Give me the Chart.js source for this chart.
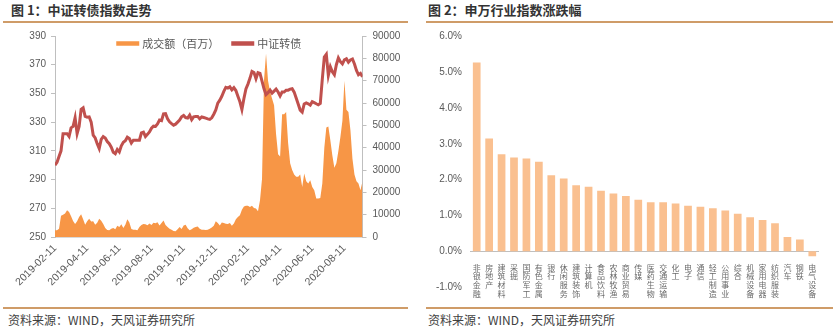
<!DOCTYPE html>
<html lang="zh-CN">
<head>
<meta charset="UTF-8">
<title>中证转债指数走势 / 申万行业指数涨跌幅</title>
<script src="https://cdn.jsdelivr.net/npm/chart.js"></script>
<style>
  body { margin: 0; background: #fff; width: 836px; height: 332px; position: relative; overflow: hidden;
         font-family: "Noto Sans CJK SC", sans-serif; }
  .title { position: absolute; top: 2px; font-size: 13px; line-height: 16px; font-weight: bold; color: #333; }
  .rule { position: absolute; height: 0; border-top: 2px solid #cf9c68; }
  .source { position: absolute; top: 313px; font-size: 12px; line-height: 14px; color: #404040; }
  canvas { position: absolute; top: 22px; }
</style>
</head>
<body>

<div class="title" style="left:11px">图 1：中证转债指数走势</div>
<div class="rule" style="left:3px;width:405px;top:21px"></div>
<canvas id="bondChart" width="410" height="285" style="left:0"></canvas>
<div class="rule" style="left:3px;width:405px;top:307px"></div>
<div class="source" style="left:8px">资料来源：WIND，天风证券研究所</div>

<div class="title" style="left:428px">图 2：申万行业指数涨跌幅</div>
<div class="rule" style="left:426px;width:407px;top:21px"></div>
<canvas id="industryChart" width="416" height="285" style="left:420px"></canvas>
<div class="rule" style="left:426px;width:407px;top:307px"></div>
<div class="source" style="left:428px">资料来源：WIND，天风证券研究所</div>

<script>
// ---- 图1 data: sampled roughly every 2.5 trading days, 2019-02-11 onward ----
const tickLabels = ['2019-02-11', '2019-04-11', '2019-06-11', '2019-08-11', '2019-10-11',
                    '2019-12-11', '2020-02-11', '2020-04-11', '2020-06-11', '2020-08-11'];
const tickEvery = 16; // samples between two date labels

const bondIndex = [
  300, 302, 306, 310, 322, 322, 322, 320, 326, 327,
  333, 322, 327, 339, 340, 334, 333.5, 333.7, 330, 321,
  319, 315, 311.6, 318, 320, 319, 316.5, 315, 312.5, 309,
  308, 311, 309.3, 313.5, 316, 317, 319.5, 318.6, 315.5, 317.4,
  317.4, 317.4, 317.4, 322.5, 323, 320, 321.5, 323.2, 325.8, 327.2,
  327, 328.7, 331.4, 331, 335.8, 336, 332.4, 330.2, 329, 327.9,
  328.6, 330, 331.4, 333.7, 334.6, 333.2, 332.8, 334.9, 331.7, 333.7,
  334, 334, 332.3, 333.6, 333.2, 332.8, 332.3, 331.9, 333, 335.5,
  338.5, 343.3, 345.3, 348, 351.4, 354.2, 353.7, 354.6, 352.5, 354,
  352, 348, 344.2, 338.8, 346.5, 353.2, 356.5, 360.5, 365.3, 364.5,
  360.3, 364.5, 364, 358.5, 353.2, 349.2, 350.5, 352.3, 350.2, 351.6,
  353, 351, 348.3, 351, 351, 352.3, 352.3, 353, 353.3, 350.9,
  346.8, 342.6, 338.4, 337, 342.7, 343.4, 342.8, 341.9, 344.2, 343.6,
  342.8, 342.1, 343, 360, 375.3, 377.2, 362.5, 368.6, 365, 363,
  370, 374.7, 372.1, 370.6, 373.4, 374.2, 371.7, 373.3, 374, 370.5,
  366, 363, 364, 361.6
];

const turnover = [
  3000, 3000, 3700, 9500, 10000, 10500, 12000, 11200, 9300, 7200,
  5800, 7000, 9000, 10200, 8000, 5500, 7000, 8200, 6900, 7000,
  5500, 6400, 8200, 7300, 5800, 4000, 3100, 3000, 3700, 4000,
  3500, 5000, 4500, 5700, 4000, 5500, 8000, 6500, 3600, 3200,
  3200, 3000, 4500, 5400, 5800, 5700, 5300, 6000, 5400, 6400,
  6200, 6600, 5200, 6300, 7400, 5400, 4500, 3700, 3200, 2700,
  2600, 3500, 4500, 3600, 5200, 5500, 3900, 3000, 3500, 4100,
  4500, 4700, 3700, 3300, 3300, 3100, 3300, 3700, 4200, 5000,
  7000, 6300, 5200, 6500, 6300, 5900, 5800, 6300, 5000, 6000,
  7900, 8900, 9700, 12200, 13700, 14000, 14000, 13400, 14000, 13000,
  12800, 11500, 16400, 26000, 70300, 82200, 70000, 65000, 62000, 59000,
  46000, 37000, 36000, 55000, 55000, 56000, 42000, 33000, 30000, 28000,
  27000, 27000, 28000, 22400, 28400, 25000, 24000, 25400, 22400, 20900,
  17200, 17200, 17500, 24000, 40000, 49000, 49500, 43300, 36500, 31000,
  33000, 38500, 44800, 52000, 70000, 57000, 56000, 47800, 35000, 28000,
  25000, 24000, 20900, 25000
];

// ---- 图2 data: 申万一级行业涨跌幅 (%) ----
const industries = ['非银金融', '房地产', '建筑材料', '采掘', '国防军工', '有色金属', '银行',
  '休闲服务', '建筑装饰', '计算机', '食品饮料', '农林牧渔', '商业贸易', '传媒', '医药生物',
  '交通运输', '化工', '电子', '通信', '轻工制造', '公用事业', '综合', '机械设备', '家用电器',
  '纺织服装', '汽车', '钢铁', '电气设备'];
const changePct = [5.27, 3.15, 2.71, 2.62, 2.59, 2.50, 2.12, 2.03, 1.84, 1.80, 1.69, 1.61, 1.54,
  1.44, 1.37, 1.37, 1.33, 1.27, 1.24, 1.20, 1.14, 1.05, 0.95, 0.87, 0.78, 0.40, 0.33, -0.14];

const axisGray = '#595959';
const lineGray = '#bfbfbf';
const numFont = { family: '"Liberation Sans", Arial, sans-serif', size: 10 };
const cjkFont = '"Noto Sans CJK SC", sans-serif';

Chart.defaults.animation = false;

// one-row legend drawn inside the plot, centred over the chart area
const inlineLegend = {
  id: 'inlineLegend',
  afterDatasetsDraw(chart, args, opts) {
    const { ctx, chartArea } = chart;
    ctx.save();
    ctx.font = opts.fontSize + 'px ' + cjkFont;
    const items = chart.data.datasets.map(ds => ({
      text: ds.label, color: ds.borderColor, w: ctx.measureText(ds.label).width
    }));
    const total = items.reduce((s, it) => s + opts.boxWidth + opts.gap + it.w, 0)
      + opts.spacing * (items.length - 1);
    let x = (chartArea.left + chartArea.right) / 2 - total / 2;
    const y = chartArea.top + opts.offsetY;
    ctx.textBaseline = 'middle';
    items.forEach(it => {
      ctx.fillStyle = it.color;
      ctx.fillRect(x, y - opts.boxHeight / 2, opts.boxWidth, opts.boxHeight);
      x += opts.boxWidth + opts.gap;
      ctx.fillStyle = opts.color;
      ctx.fillText(it.text, x, y);
      x += it.w + opts.spacing;
    });
    ctx.restore();
  }
};

// 图1: turnover area + index line
new Chart(document.getElementById('bondChart'), {
  type: 'line',
  data: {
    datasets: [{
      label: '成交额（百万）',
      data: turnover.map((v, i) => ({ x: i, y: v })),
      yAxisID: 'yVol',
      borderWidth: 0,
      borderColor: '#F79646',
      backgroundColor: '#F79646',
      fill: 'origin',
      pointRadius: 0,
      tension: 0,
      order: 2
    }, {
      label: '中证转债',
      data: bondIndex.map((v, i) => ({ x: i, y: v })),
      yAxisID: 'yIdx',
      borderWidth: 3,
      borderColor: '#C0504D',
      backgroundColor: '#C0504D',
      fill: false,
      pointRadius: 0,
      tension: 0,
      order: 1
    }]
  },
  plugins: [inlineLegend],
  options: {
    responsive: false,
    layout: { padding: { top: 14, left: 0, right: 0, bottom: 0 } },
    plugins: {
      tooltip: { enabled: false },
      legend: { display: false },
      inlineLegend: { fontSize: 11, boxWidth: 23, boxHeight: 4.5, gap: 3, spacing: 12, offsetY: 7.5, color: axisGray }
    },
    scales: {
      x: {
        type: 'linear',
        min: 0,
        max: bondIndex.length - 1,
        afterBuildTicks: axis => { axis.ticks = tickLabels.map((_, k) => ({ value: k * tickEvery })); },
        afterFit: axis => { axis.height = 70; },
        ticks: {
          autoSkip: false, maxRotation: 45, minRotation: 45, padding: 5,
          color: axisGray, font: { family: numFont.family, size: 10.5 },
          callback: v => tickLabels[v / tickEvery]
        },
        grid: { display: false, drawTicks: false },
        border: { display: true, color: '#d9d9d9' }
      },
      yIdx: {
        position: 'left',
        min: 250, max: 390,
        afterFit: axis => { axis.width = 55; },
        ticks: { stepSize: 20, padding: 5, color: axisGray, font: numFont },
        grid: { drawOnChartArea: false, tickLength: 4, color: lineGray },
        border: { color: lineGray }
      },
      yVol: {
        position: 'right',
        min: 0, max: 90000,
        afterFit: axis => { axis.width = 47.5; },
        ticks: { stepSize: 10000, padding: 6, color: axisGray, font: numFont, callback: v => String(v) },
        grid: { drawOnChartArea: false, tickLength: 4, color: lineGray },
        border: { color: lineGray }
      }
    }
  }
});

// 图2: industry returns, labels stacked one character per line
new Chart(document.getElementById('industryChart'), {
  type: 'bar',
  data: {
    labels: industries.map(s => s.split('')),
    datasets: [{
      data: changePct,
      backgroundColor: '#FAC090',
      borderWidth: 0,
      barPercentage: 0.62,
      categoryPercentage: 1
    }]
  },
  options: {
    responsive: false,
    layout: { padding: { top: 8, left: 0, right: 17.5, bottom: 20 } },
    plugins: { legend: { display: false }, tooltip: { enabled: false } },
    scales: {
      x: {
        position: { y: 0 },
        grid: { display: false, drawTicks: false },
        border: { display: true, color: lineGray },
        ticks: {
          autoSkip: false, maxRotation: 0, minRotation: 0, padding: 12,
          color: '#6a6a6a', font: { family: cjkFont, size: 8, lineHeight: 1.08 }
        }
      },
      y: {
        min: -1, max: 6,
        afterFit: axis => { axis.width = 50.5; },
        ticks: { stepSize: 1, padding: 8.5, color: axisGray, font: numFont, callback: v => v.toFixed(1) + '%' },
        grid: { display: false, drawTicks: false },
        border: { display: false }
      }
    }
  }
});
</script>
</body>
</html>
